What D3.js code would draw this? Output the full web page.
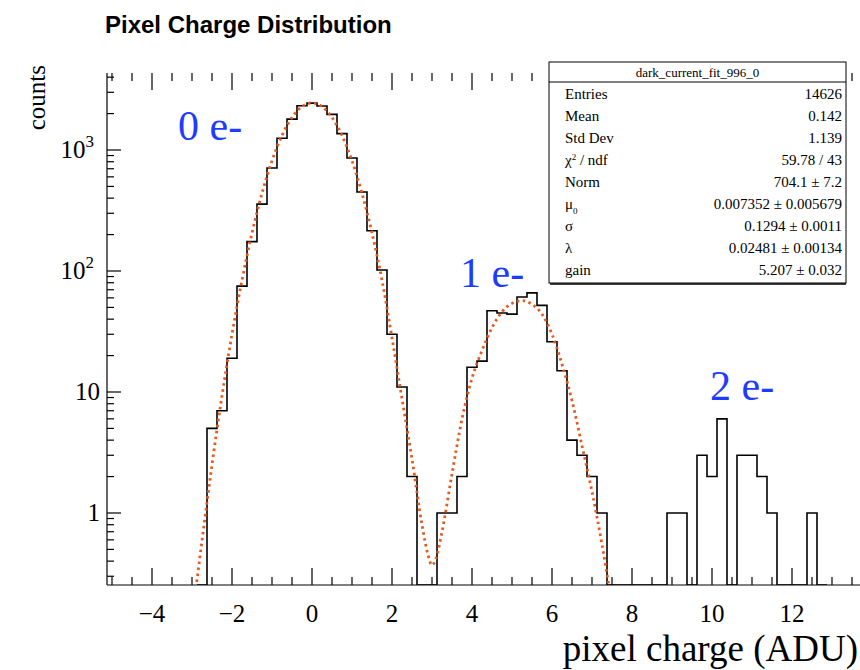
<!DOCTYPE html>
<html>
<head>
<meta charset="utf-8">
<script src="https://cdn.jsdelivr.net/npm/d3@7"></script>
<style>
  body { margin: 0; background: #fff; }
  svg text { font-family: "Liberation Serif", "Times New Roman", serif; }
</style>
</head>
<body>
<div id="chart"></div>
<script>
// --- data ---
const binWidth = 0.25;
const firstBinCenter = -2.75;
// counts per 0.25 ADU bin, starting at -2.75
const binCounts = [
  0, 5, 7, 19, 75, 175, 357, 710, 1250, 1800, 2320, 2440, 2310, 1970, 1367, 858,
  450, 215, 102, 30, 11, 2, 0, 0,
  1, 1, 2, 16, 18, 47, 45, 44, 61, 66, 52, 26, 15, 4, 3, 2, 1,
  0, 0, 0, 0, 0, 0,
  1, 1, 0, 3, 2, 6, 0, 3, 3, 2, 1, 0, 0, 0, 1, 0
];

// fitted curve, sampled by eye
const fitX = [-2.9, -2.75, -2.5, -2.25, -2.0, -1.75, -1.5, -1.25, -1.0, -0.75, -0.5, -0.25, 0,
  0.25, 0.5, 0.75, 1.0, 1.25, 1.5, 1.75, 2.0, 2.25, 2.5, 2.75, 2.9, 3.0, 3.1, 3.25, 3.5,
  3.75, 4.0, 4.25, 4.5, 4.75, 5.0, 5.25, 5.5, 5.75, 6.0, 6.25, 6.5, 6.75, 7.0, 7.25, 7.45];
const fitY = [0.24, 0.59, 2.5, 9.3, 30, 84, 206, 439, 815, 1319, 1861, 2287, 2450,
  2287, 1861, 1319, 815, 439, 206, 84, 28, 8.8, 2.8, 0.8, 0.45, 0.37, 0.42, 0.7, 2.1,
  6, 13, 22, 34, 46, 54, 57, 53, 44, 30, 17, 8.5, 3.6, 1.5, 0.55, 0.22];

const xTickLabels = [-4, -2, 0, 2, 4, 6, 8, 10, 12];
const yTickLabels = [1, 10, 100, 1000];

const peakLabels = ["0 e-", "1 e-", "2 e-"];
const peakLabelPos = [[-3.35, 1210], [3.7, 74], [9.95, 8.6]];

const statsTitle = "dark_current_fit_996_0";
const statsNames = ["Entries", "Mean", "Std Dev", "χ2 / ndf", "Norm", "μ0", "σ", "λ", "gain"];
const statsValues = ["14626", "0.142", "1.139", "59.78 / 43", "704.1 ± 7.2",
  "0.007352 ± 0.005679", "0.1294 ± 0.0011", "0.02481 ± 0.00134", "5.207 ± 0.032"];

// --- layout ---
const W = 860, H = 670;
const plot = { left: 107, top: 73, right: 867, bottom: 585 };
const xDomain = [-5.125, 13.875];
const yDomain = [0.254, 4330];
const fitColor = "#e6581c";
const labelBlue = "#1e3cff";

const svg = d3.select("#chart").append("svg")
  .attr("width", W).attr("height", H);

svg.append("rect").attr("width", W).attr("height", H).attr("fill", "#fff");

const x = d3.scaleLinear().domain(xDomain).range([plot.left, plot.right]);
const y = d3.scaleLog().domain(yDomain).range([plot.bottom, plot.top]);

svg.append("defs").append("clipPath").attr("id", "plotClip")
  .append("rect")
  .attr("x", plot.left).attr("y", plot.top)
  .attr("width", plot.right - plot.left).attr("height", plot.bottom - plot.top);

// title
svg.append("text")
  .attr("x", 105).attr("y", 33)
  .style("font-family", "'Liberation Sans', Arial, sans-serif")
  .style("font-weight", "bold")
  .style("font-size", "24px")
  .text("Pixel Charge Distribution");

// --- histogram outline ---
const stepPts = [];
binCounts.forEach((c, i) => {
  const centre = firstBinCenter + i * binWidth;
  stepPts.push([centre - binWidth / 2, c]);
  stepPts.push([centre + binWidth / 2, c]);
});
const floorY = v => (v > yDomain[0] ? v : yDomain[0]);
const stepLine = d3.line().x(d => x(d[0])).y(d => y(floorY(d[1])));

svg.append("path")
  .datum([[stepPts[0][0], 0], ...stepPts, [stepPts[stepPts.length - 1][0], 0]])
  .attr("clip-path", "url(#plotClip)")
  .attr("fill", "none")
  .attr("stroke", "#000")
  .attr("stroke-width", 1.6)
  .attr("d", stepLine);

// --- fit ---
const fitPts = fitX.map((v, i) => [v, fitY[i]]);
svg.append("path")
  .datum(fitPts)
  .attr("clip-path", "url(#plotClip)")
  .attr("fill", "none")
  .attr("stroke", fitColor)
  .attr("stroke-width", 2.8)
  .attr("stroke-dasharray", "2.5,3.5")
  .attr("d", d3.line().x(d => x(d[0])).y(d => y(d[1])).curve(d3.curveMonotoneX));

// --- axes ---
const axisG = svg.append("g").attr("stroke", "#000").attr("stroke-width", 1.2);
axisG.append("line")
  .attr("x1", plot.left).attr("x2", plot.right)
  .attr("y1", plot.bottom).attr("y2", plot.bottom);
axisG.append("line")
  .attr("x1", plot.left).attr("x2", plot.left)
  .attr("y1", plot.top).attr("y2", plot.bottom);

// x ticks (bottom and top), minor every 0.5
const xMinor = d3.range(-5, 13.76, 0.5);
xMinor.forEach(t => {
  const major = Math.abs(t % 2) < 1e-9;
  const len = major ? 17 : 8;
  axisG.append("line")
    .attr("x1", x(t)).attr("x2", x(t))
    .attr("y1", plot.bottom).attr("y2", plot.bottom - len);
  axisG.append("line")
    .attr("x1", x(t)).attr("x2", x(t))
    .attr("y1", plot.top).attr("y2", plot.top + len);
});

svg.append("g").selectAll("text").data(xTickLabels).join("text")
  .attr("x", d => x(d))
  .attr("y", 622)
  .attr("text-anchor", "middle")
  .style("font-size", "25px")
  .text(d => (d < 0 ? "\u2212" + Math.abs(d) : d));

// y ticks, log minors
const yTicks = [];
[0.1, 1, 10, 100, 1000].forEach(dec => {
  for (let k = 1; k <= 9; k++) {
    const v = dec * k;
    if (v >= yDomain[0] && v <= yDomain[1]) yTicks.push({ v, major: k === 1 });
  }
});
yTicks.forEach(t => {
  axisG.append("line")
    .attr("x1", plot.left).attr("x2", plot.left + (t.major ? 14 : 7))
    .attr("y1", y(t.v)).attr("y2", y(t.v));
});

const yLab = svg.append("g").selectAll("text").data(yTickLabels).join("text")
  .attr("x", d => (d < 100 ? 100 : 94))
  .attr("y", d => y(d) + 8)
  .attr("text-anchor", "end")
  .style("font-size", "25px");
yLab.each(function (d) {
  const t = d3.select(this);
  if (d < 100) { t.text(d); return; }
  t.append("tspan").text("10");
  t.append("tspan").attr("dy", -11).style("font-size", "17px").text(Math.round(Math.log10(d)));
});

// axis titles
svg.append("text")
  .attr("transform", "translate(45,65) rotate(-90)")
  .attr("text-anchor", "end")
  .style("font-size", "25px")
  .text("counts");

svg.append("text")
  .attr("x", 858).attr("y", 661)
  .attr("text-anchor", "end")
  .style("font-size", "37px")
  .text("pixel charge (ADU)");

// peak labels
svg.append("g").selectAll("text").data(peakLabels).join("text")
  .attr("x", (d, i) => x(peakLabelPos[i][0]))
  .attr("y", (d, i) => y(peakLabelPos[i][1]))
  .attr("fill", labelBlue)
  .style("font-size", "42px")
  .text(d => d);

// --- stats box ---
const box = { x: 549, y: 62, w: 297, h: 221 };
const sg = svg.append("g");
sg.append("rect")
  .attr("x", box.x).attr("y", box.y).attr("width", box.w).attr("height", box.h)
  .attr("fill", "#fff").attr("stroke", "#000").attr("stroke-width", 1);
sg.append("line")
  .attr("x1", box.x + 1).attr("x2", box.x + box.w)
  .attr("y1", box.y + box.h + 1).attr("y2", box.y + box.h + 1)
  .attr("stroke", "#000").attr("stroke-width", 1.5);
sg.append("line")
  .attr("x1", box.x).attr("x2", box.x + box.w)
  .attr("y1", box.y + 20).attr("y2", box.y + 20)
  .attr("stroke", "#000").attr("stroke-width", 1);
sg.append("text")
  .attr("x", box.x + box.w / 2).attr("y", box.y + 15)
  .attr("text-anchor", "middle")
  .style("font-size", "13px")
  .text(statsTitle);

const rowY = i => box.y + 37 + i * 22;
statsNames.forEach((name, i) => {
  const t = sg.append("text").attr("x", box.x + 16).attr("y", rowY(i)).style("font-size", "15px");
  if (name.startsWith("χ")) {
    t.append("tspan").text("χ");
    t.append("tspan").attr("dy", -5).style("font-size", "9px").text("2");
    t.append("tspan").attr("dy", 5).text(" / ndf");
  } else if (name.startsWith("μ")) {
    t.append("tspan").text("μ");
    t.append("tspan").attr("dy", 5).style("font-size", "9px").text("0");
  } else {
    t.text(name);
  }
  sg.append("text")
    .attr("x", box.x + box.w - 4).attr("y", rowY(i))
    .attr("text-anchor", "end")
    .style("font-size", "15px")
    .text(statsValues[i]);
});
</script>
</body>
</html>
